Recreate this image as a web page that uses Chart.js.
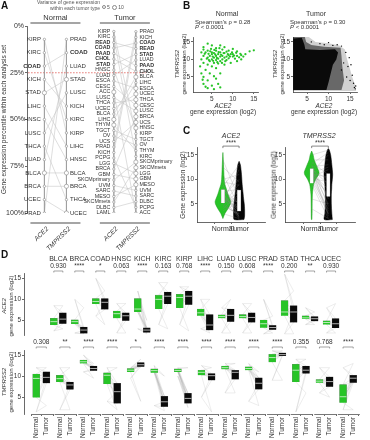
<!DOCTYPE html>
<html>
<head>
<meta charset="utf-8">
<title>ACE2 / TMPRSS2 expression</title>
<script src="https://cdn.jsdelivr.net/npm/chart.js@4.4.1/dist/chart.umd.min.js"></script>
<style>
  body { margin: 0; background: #fff; }
  #fig { position: relative; width: 370px; height: 440px; overflow: hidden;
         font-family: "Liberation Sans", Arial, sans-serif; color: #333; }
  #fig canvas { position: absolute; }
  .t { position: absolute; white-space: nowrap; line-height: 1; font-size: 6px; }
  .panel { font-weight: bold; font-size: 10px; color: #111; }
  .c { transform: translateX(-50%); text-align: center; }
  .rot { transform: translate(-50%, -50%) rotate(-90deg); text-align: center; }
  .dot { display: inline-block; border: 0.6px solid #888; border-radius: 50%; vertical-align: middle; margin: 0 1px 0 2px; }
</style>
</head>
<body>
<div id="fig">
  <canvas id="chartA" width="185" height="255" style="left:0px;top:0px"></canvas>
  <canvas id="chartB1" width="92" height="86" style="left:172px;top:30px"></canvas>
  <canvas id="chartB2" width="100" height="86" style="left:262px;top:30px"></canvas>
  <canvas id="chartC1" width="96" height="95" style="left:172px;top:140px"></canvas>
  <canvas id="chartC2" width="96" height="95" style="left:262px;top:140px"></canvas>
  <canvas id="chartD1" width="370" height="90" style="left:0px;top:250px"></canvas>
  <canvas id="chartD2" width="370" height="102" style="left:0px;top:338px"></canvas>

  <div class="t panel" style="left:1px;top:1px">A</div>
  <div class="t" style="left:20px;top:0px;width:80px;text-align:right;font-size:5px;line-height:5.6px;color:#555">Variance of gene expression<br>within each tumor type</div>
  <div class="t" style="left:100px;top:4.5px;font-size:5px;color:#555"><span class="dot" style="width:2px;height:2px"></span>5<span class="dot" style="width:3.5px;height:3.5px"></span>10</div>

  <div class="t panel" style="left:183px;top:1px">B</div>
  <div class="t c" style="left:227px;top:9.5px;font-size:7px">Normal</div>
  <div class="t c" style="left:316px;top:9.5px;font-size:7px">Tumor</div>
  <div class="t" style="left:195px;top:19.5px;line-height:5.5px">Spearman's &rho; = 0.28<br><i>P</i> &lt; 0.0001</div>
  <div class="t" style="left:290px;top:19.5px;line-height:5.5px">Spearman's &rho; = 0.30<br><i>P</i> &lt; 0.0001</div>
  <div class="t c" style="left:223px;top:103px;font-size:6.5px;line-height:6px"><i>ACE2</i><br>gene expression (log2)</div>
  <div class="t c" style="left:324px;top:103px;font-size:6.5px;line-height:6px"><i>ACE2</i><br>gene expression (log2)</div>
  <div class="t rot" style="left:180px;top:64px;line-height:6.5px"><i>TMPRSS2</i><br>gene expression (log2)</div>
  <div class="t rot" style="left:278px;top:64px;line-height:6.5px"><i>TMPRSS2</i><br>gene expression (log2)</div>

  <div class="t panel" style="left:183px;top:126px">C</div>
  <div class="t c" style="left:231px;top:131.5px;font-size:7px"><i>ACE2</i></div>
  <div class="t c" style="left:319px;top:131.5px;font-size:7px"><i>TMPRSS2</i></div>
  <div class="t rot" style="left:183px;top:185px;font-size:6.5px">Gene expression (log2)</div>
  <div class="t rot" style="left:274px;top:185px;font-size:6.5px">Gene expression (log2)</div>

  <div class="t panel" style="left:1px;top:250px">D</div>
  <div class="t rot" style="left:7px;top:306px;line-height:6.5px"><i>ACE2</i><br>gene expression (log2)</div>
  <div class="t rot" style="left:7px;top:382px;line-height:6.5px"><i>TMPRSS2</i><br>gene expression (log2)</div>
</div>

<script>
const FONT = '"Liberation Sans", Arial, sans-serif';
const GREEN = '#27c427';
const AXIS = '#444';

// ---------- Panel A: percentile rank of each tumor type ----------
const normalAce2Order = ['KIRP','KIRC','COAD','KICH','STAD','LIHC','HNSC','LUSC','THCA','LUAD','BLCA','BRCA','UCEC','PRAD'];
const normalTmprss2Order = ['PRAD','COAD','LUAD','STAD','LUSC','KICH','KIRC','KIRP','LIHC','HNSC','BLCA','BRCA','THCA','UCEC'];
const tumorAce2Order = ['KIRP','KIRC','READ','COAD','PAAD','CHOL','STAD','HNSC','LUAD','ESCA','CESC','ACC','LUSC','THCA','UCEC','BLCA','LIHC','THYM','TGCT','OV','UCS','PRAD','KICH','PCPG','LGG','BRCA','GBM','SKCMprimary','UVM','SARC','MESO','SKCMmets','DLBC','LAML'];
const tumorTmprss2Order = ['PRAD','KICH','COAD','READ','STAD','LUAD','PAAD','CHOL','BLCA','LIHC','ESCA','UCEC','THCA','CESC','LUSC','BRCA','UCS','HNSC','KIRP','TGCT','OV','THYM','KIRC','SKCMprimary','SKCMmets','LGG','GBM','MESO','UVM','SARC','DLBC','PCPG','ACC'];
const normalBold = ['COAD'];
const tumorBold = ['READ','COAD','PAAD','CHOL','STAD'];
// tumor types drawn with the larger (variance 10) marker
const normalAce2HighVar = ['STAD','BLCA'];
const normalTmprss2HighVar = ['STAD','BLCA','BRCA','UCEC'];
const tumorAce2HighVar = ['ACC','LIHC','THYM'];
const tumorTmprss2HighVar = ['BLCA','ESCA','UCEC','THCA','CESC','LUSC','BRCA','UCS','HNSC','SKCMprimary','SKCMmets','LGG','GBM','MESO'];
const percentTicks = [0, 25, 50, 75, 100];
const cutoffPercent = 25;

// ---------- Panel B: scatter ACE2 vs TMPRSS2 ----------
const normalScatter = [
  [3,11],[3.5,12],[4,10.5],[4,12.5],[4.5,11],[4.5,9.5],[5,11.5],[5,10],[5,12],[5.5,10.5],[5.5,9],[5.5,11.8],
  [6,11],[6,9.8],[6,12.5],[6.5,10.2],[6.5,11.5],[6.5,8.8],[7,10.8],[7,9.5],[7,12],[7.5,11],[7.5,10],[8,10.5],
  [8,11.8],[8.5,10.8],[8.5,9.8],[9,11.2],[9,10.3],[9.5,11.5],[10,10.8],[10,11.5],[10.5,10.2],[11,11],[11.5,10.6],
  [12,11.2],[12.5,10.8],[9,12.5],[10,13],[8,13.5],[7,14],[5,14],[4,14.5],[3,13.5],[2.5,12],[2.5,10],[3,9],
  [4,8.5],[5,8],[6,7.5],[3.5,7],[2.5,6],[4.5,6],[3,5],[5.5,5.2],[4,4],[6,4.5],[3,3],[5,2.5],[6.5,3],[4,1.8],
  [7,2],[3.5,2.2],[5.5,1.5],[7,6],[6,13.2],[7.5,12.8],[8.5,12.2],[11,12.3],[13,11.5],[14,12.3],[15,12.6],
  [11,9.5],[9.5,9],[8,8.5],[12,10],[3,12.8],[4.8,13],[6.8,13.2],[5.2,10.8],[5.8,11.4],[6.2,10.4],[4.2,11.6],
  [3.8,10.2],[7.2,11.3],[7.8,11.8],[8.2,9.5],[9.8,12],[10.8,11.9],[4.6,12.3],[5.6,12.7],[6.6,12.1],[5.3,9.6],
  [6.3,9.2],[4.3,9.8],[7.4,9],[8.8,11.5],[9.3,10.8],[10.3,11.1],[11.8,11.6],[3.3,11.6],[2.2,8],[2.8,4.2]
];
// tumor cloud is too dense for single points: density outlines plus sparse outliers
const tumorHalo = [[1.6,1],[16.4,1],[16.2,2.5],[15.5,5],[14.8,8],[14.2,10.5],[13.8,12.8],[12.5,14],[10,14.6],[7,15],[5.2,16.6],[1.6,16.6]];
const tumorMid = [[1.8,1.3],[13,1.3],[13.6,4],[13.2,8],[13,11],[12.8,13.3],[9,13.6],[6,14.1],[4.8,15],[4.5,16.4],[1.8,16.4]];
const tumorCore = [[1.8,1.3],[1.8,16],[3.8,16.2],[4.4,14.2],[4.6,12.9],[8,12.7],[11.5,12.9],[12.2,12],[11.8,10],[11,8.5],[10.5,6],[10,3.5],[9.5,1.3]];
const tumorOutliers = [[14.5,8],[15,4],[16,2],[13,13.8],[14,12],[6,15],[8,14.5],[15.5,5.5],[16.2,1.6],[13.5,9],
  [14.8,10.5],[12,14.2],[10,14.8],[15.8,3.2],[13,7],[14.2,5],[11,14],[16.3,2.4],[9,14.2],[15.2,8.5]];
const scatterTicks = [5, 10, 15];

// ---------- Panel C: violins (level, half width) ----------
const ace2NormalLevels = [2, 3, 4, 5, 5.5, 6, 7, 8, 9, 10, 12, 14, 15.5];
const ace2NormalWidth = [0, 0.12, 0.31, 0.46, 0.48, 0.43, 0.31, 0.22, 0.12, 0.08, 0.05, 0.025, 0];
const ace2TumorLevels = [1.8, 2.5, 4, 5, 6, 7, 8, 9, 10, 11, 12, 13, 13.7];
const ace2TumorWidth = [0.3, 0.34, 0.34, 0.32, 0.28, 0.25, 0.22, 0.19, 0.17, 0.15, 0.12, 0.08, 0];
const tmprss2NormalLevels = [1.8, 3, 5, 7, 8, 9, 10, 10.5, 11, 11.5, 12, 13, 14, 15, 15.8];
const tmprss2NormalWidth = [0.015, 0.025, 0.03, 0.045, 0.075, 0.12, 0.24, 0.33, 0.42, 0.44, 0.39, 0.27, 0.15, 0.09, 0];
const tmprss2TumorLevels = [1.8, 3, 5, 7, 8, 9, 10, 11, 12, 13, 14, 15, 16, 16.3];
const tmprss2TumorWidth = [0.24, 0.21, 0.18, 0.18, 0.2, 0.21, 0.24, 0.26, 0.24, 0.21, 0.18, 0.14, 0.06, 0];
const ace2Boxes = { normal: [5.2, 7.9], tumor: [3.5, 7.8] };
const tmprss2Boxes = { normal: [9.2, 12.2], tumor: [6.5, 11.2] };
// paired samples (normal value -> tumor value)
const ace2PairNormal = [3,4,4.5,5,5.2,5.5,5.8,6,6.3,6.6,7,7.5,8,8.5,9,10,11,12.5,14,4.8,5.6,6.8,5.1,6.1,7.2,3.6,9.5,8.2];
const ace2PairTumor = [2,7,3,9,2.5,12,4,6,2,10,3.5,8,5,13,2.2,11,4.5,9.5,6,2.8,5.5,3,7.5,4.2,2.4,5.2,8.8,3.8];
const tmprss2PairNormal = [9,10,10.5,11,11.2,11.5,11.8,12,12.3,12.6,13,13.5,14,15,10.8,11.6,12.1,4,6,11.4,12.8,10.2,11.9,13.2,9.6,11.1];
const tmprss2PairTumor = [2,4,12,3,8,15,5,10,2.5,13,6,11,14,16,7,3.5,9,2,5,12.5,4.5,9.5,6.5,15.5,3,10.5];
const violinTicks = [5, 10, 15];

// ---------- Panel D: paired box plots per tumor type ----------
const dTypes = ['BLCA','BRCA','COAD','HNSC','KICH','KIRC','KIRP','LIHC','LUAD','LUSC','PRAD','STAD','THCA','UCEC'];
const ace2PValues = ['0.930','****','*','0.063','****','0.163','0.768','****','0.150','0.608','****','0.200','**','0.930'];
const tmprss2PValues = ['0.308','**','****','****','*','****','****','****','****','****','****','0.355','0.768','****'];

const ace2NormalQ1 = [3.9,4.15,8.9,5.5,7.0,7.7,7.95,6.1,5.5,5.5,3.25,6.1,5.3,4.0];
const ace2NormalMed = [4.7,4.7,9.5,6.6,7.7,10.0,10.45,6.8,5.9,5.9,4.2,7.0,5.6,4.5];
const ace2NormalQ3 = [5.5,5.15,10.2,7.2,10.2,11.0,11.2,7.7,6.3,6.4,5.1,9.7,6.1,4.9];
const ace2NormalMin = [2.5,2,6,2,3,4,4,3,2,2,1.8,1.8,4,2];
const ace2NormalMax = [8.5,10,15,9,12,14,13,10,8,9,10,16,8,8];
const ace2TumorQ1 = [4.2,1.9,7.6,4.9,2.1,8.9,8.7,2.65,4.7,4.5,2.8,4.5,4.8,3.2];
const ace2TumorMed = [5.3,2.7,9.3,6.1,2.7,10.75,10.75,3.9,6.2,5.7,3.3,7.0,5.4,4.2];
const ace2TumorQ3 = [6.8,3.4,10.2,6.8,3.25,11.75,12.0,6.4,7.7,6.8,3.8,8.5,5.9,5.45];
const ace2TumorMin = [3,1.8,4,2,1.8,3,2.5,2,2,2,2,1.8,4,2];
const ace2TumorMax = [8.5,8,12,9,5,14,13,10,10,9,6,12,7,9];

const tmprss2NormalQ1 = [4.9,8.6,13.0,8.1,11.0,10.8,11.0,10.2,11.6,11.4,13.3,8.6,8.4,3.7];
const tmprss2NormalMed = [9.45,9.4,13.4,10.2,11.4,11.3,11.35,10.9,12.0,11.8,14.4,11.4,8.8,5.1];
const tmprss2NormalQ3 = [10.5,10.2,13.8,10.8,11.8,11.7,11.7,11.4,12.4,12.2,15.2,12.8,9.2,8.0];
const tmprss2NormalMin = [1.5,2,11,4,9.5,3,10,5,6,4,9,1.5,6,2];
const tmprss2NormalMax = [12,12,15,12,12,12.5,12,12.5,13,13,16,14,12,12];
const tmprss2TumorQ1 = [8.3,6.8,11.3,3.5,12.2,2.7,3.5,9.0,9.3,6.9,14.8,10.6,7.5,8.4];
const tmprss2TumorMed = [9.7,7.9,11.8,6.3,12.7,3.9,4.7,10.1,10.9,8.3,15.1,11.4,8.7,9.5];
const tmprss2TumorQ3 = [11.0,8.6,12.4,8.3,13.2,5.2,5.9,10.6,11.4,9.6,15.5,12.4,9.8,10.2];
const tmprss2TumorMin = [3,2,9.5,2,4,1.8,2.5,1.5,6,3,9,6,5,2];
const tmprss2TumorMax = [12,12,13,12,14,10,12,12,13,11,16,14,12,13];
const boxTicks = [5, 10, 15];

// ---------- defaults ----------
Chart.defaults.font.family = FONT;
Chart.defaults.color = '#333';
Chart.defaults.animation = false;
Chart.defaults.responsive = false;
Chart.defaults.events = [];
Chart.defaults.plugins.legend.display = false;
Chart.defaults.plugins.tooltip.enabled = false;

const fixedTicks = vals => scale => { scale.ticks = vals.map(v => ({ value: v })); };
const axisLine = { display: true, color: AXIS, width: 0.8 };
const tickGrid = { drawOnChartArea: false, drawTicks: true, tickLength: 2, color: AXIS, lineWidth: 0.8 };

// ---------- Panel A ----------
const pct = (i, n) => (i + 1) / n * 100;
const facetsA = [
  { title: 'Normal', ace2: normalAce2Order, tmp: normalTmprss2Order, xAce2: 1, xTmp: 2, bold: normalBold,
    bigAce2: normalAce2HighVar, bigTmp: normalTmprss2HighVar, size: 6 },
  { title: 'Tumor', ace2: tumorAce2Order, tmp: tumorTmprss2Order, xAce2: 4.15, xTmp: 5.15, bold: tumorBold,
    bigAce2: tumorAce2HighVar, bigTmp: tumorTmprss2HighVar, size: 5.3 }
];

function linkLines(f) {
  const pts = [];
  f.ace2.forEach((name, i) => {
    const j = f.tmp.indexOf(name);
    if (j < 0) return;
    pts.push({ x: f.xAce2, y: pct(i, f.ace2.length) }, { x: f.xTmp, y: pct(j, f.tmp.length) }, { x: f.xTmp, y: null });
  });
  return pts;
}
function columnMarkers(list, xv, big) {
  return {
    type: 'scatter',
    data: list.map((n, i) => ({ x: xv, y: pct(i, list.length) })),
    pointRadius: list.map(n => big.includes(n) ? 2.1 : 1.2),
    pointBackgroundColor: '#fff', pointBorderColor: '#888', pointBorderWidth: 0.6, order: 0
  };
}
function columnLine(list, xv) {
  return {
    type: 'line', data: [{ x: xv, y: pct(0, list.length) }, { x: xv, y: 100 }],
    borderColor: '#999', borderWidth: 0.6, pointRadius: 0, order: 1
  };
}

const datasetsA = [];
facetsA.forEach(f => {
  datasetsA.push(columnMarkers(f.ace2, f.xAce2, f.bigAce2), columnMarkers(f.tmp, f.xTmp, f.bigTmp));
  datasetsA.push(columnLine(f.ace2, f.xAce2), columnLine(f.tmp, f.xTmp));
  datasetsA.push({ type: 'line', data: linkLines(f), borderColor: '#c8c8c8', borderWidth: 0.6,
    pointRadius: 0, spanGaps: false, order: 3 });
});
datasetsA.push({ type: 'line', data: [{ x: 0.26, y: cutoffPercent }, { x: 5.6, y: cutoffPercent }],
  borderColor: '#e0554f', borderWidth: 0.8, borderDash: [1.5, 1.5], pointRadius: 0, order: 2 });

const panelALabels = {
  id: 'panelALabels',
  afterDatasetsDraw(chart) {
    const { ctx, scales: { x, y }, chartArea } = chart;
    ctx.save();
    ctx.fillStyle = '#333';
    facetsA.forEach(f => {
      const xa = x.getPixelForValue(f.xAce2), xb = x.getPixelForValue(f.xTmp);
      ctx.textBaseline = 'middle';
      [[f.ace2, xa - 3.5, 'right'], [f.tmp, xb + 3.5, 'left']].forEach(([list, px, align]) => {
        ctx.textAlign = align;
        list.forEach((name, i) => {
          ctx.font = (f.bold.includes(name) ? 'bold ' : '') + f.size + 'px ' + FONT;
          ctx.fillText(name, px, y.getPixelForValue(pct(i, list.length)));
        });
      });
      // facet strip + bottom axis
      ctx.strokeStyle = '#888';
      ctx.lineWidth = 1.3;
      ctx.beginPath();
      ctx.moveTo(xa - 14, chartArea.top - 3); ctx.lineTo(xb + 14, chartArea.top - 3);
      ctx.moveTo(xa - 14, chartArea.bottom + 10); ctx.lineTo(xb + 14, chartArea.bottom + 10);
      ctx.stroke();
      ctx.font = '7.5px ' + FONT;
      ctx.textAlign = 'center';
      ctx.textBaseline = 'alphabetic';
      ctx.fillText(f.title, (xa + xb) / 2, chartArea.top - 6);
      ctx.font = 'italic 6.5px ' + FONT;
      ctx.textAlign = 'right';
      ctx.textBaseline = 'middle';
      [[xa, 'ACE2'], [xb, 'TMPRSS2']].forEach(([px, g]) => {
        ctx.save();
        ctx.translate(px + 3, chartArea.bottom + 15);
        ctx.rotate(-Math.PI / 4);
        ctx.fillText(g, 0, 0);
        ctx.restore();
      });
    });
    ctx.restore();
  }
};

new Chart(document.getElementById('chartA'), {
  type: 'scatter',
  data: { datasets: datasetsA },
  options: {
    layout: { padding: { top: 26, bottom: 42, left: 0, right: 0 } },
    scales: {
      x: { type: 'linear', min: 0.21, max: 7.17, display: false },
      y: {
        type: 'linear', min: 0, max: 100, reverse: true,
        afterFit: s => { s.width = 27; },
        afterBuildTicks: fixedTicks(percentTicks),
        ticks: { callback: v => v + '%', font: { size: 7 }, padding: 1 },
        border: axisLine, grid: tickGrid,
        title: { display: true, text: 'Gene expression percentile within each analysis set', font: { size: 6.5 }, padding: 0 }
      }
    }
  },
  plugins: [panelALabels]
});

// ---------- Panel B ----------
function scatterScales(xmin, xmax) {
  return {
    x: { type: 'linear', min: xmin, max: xmax, afterFit: s => { s.height = 10; },
         afterBuildTicks: fixedTicks(scatterTicks), ticks: { font: { size: 6.5 }, padding: 1, maxRotation: 0 },
         border: axisLine, grid: tickGrid },
    y: { type: 'linear', min: 0.7, max: 16.4, afterFit: s => { s.width = 21; },
         afterBuildTicks: fixedTicks(scatterTicks), ticks: { font: { size: 6.5 }, padding: 1 },
         border: axisLine, grid: tickGrid }
  };
}
const toXY = arr => arr.map(([x, y]) => ({ x, y }));
const closed = arr => toXY(arr.concat([arr[0]]));

new Chart(document.getElementById('chartB1'), {
  type: 'scatter',
  data: { datasets: [{ data: toXY(normalScatter), pointRadius: 1.15, pointBackgroundColor: GREEN, pointBorderWidth: 0 }] },
  options: { layout: { padding: { left: 0, right: 6, top: 7, bottom: 14 } }, scales: scatterScales(0.5, 16) }
});

new Chart(document.getElementById('chartB2'), {
  type: 'scatter',
  data: { datasets: [
    { data: toXY(tumorOutliers), pointRadius: 0.7, pointBackgroundColor: '#000', pointBorderWidth: 0, order: 0 },
    { type: 'line', data: closed(tumorCore), fill: 'shape', backgroundColor: '#0a0a0a', borderWidth: 0, pointRadius: 0, tension: 0, order: 1 },
    { type: 'line', data: closed(tumorMid), fill: 'shape', backgroundColor: 'rgba(0,0,0,0.5)', borderWidth: 0, pointRadius: 0, tension: 0, order: 2 },
    { type: 'line', data: closed(tumorHalo), fill: 'shape', backgroundColor: 'rgba(0,0,0,0.18)', borderWidth: 0, pointRadius: 0, tension: 0, order: 3 }
  ] },
  options: { layout: { padding: { left: 10, right: 5, top: 7, bottom: 14 } }, scales: scatterScales(1.75, 16.6) }
});

// ---------- Panel C ----------
function violinShape(center, levels, widths) {
  const right = levels.map((lv, i) => ({ x: center + widths[i], y: lv }));
  const left = levels.map((lv, i) => ({ x: center - widths[i], y: lv })).reverse();
  return right.concat(left, [right[0]]);
}
function pairLines(normal, tumor) {
  const pts = [];
  normal.forEach((v, i) => pts.push({ x: 1, y: v }, { x: 2, y: tumor[i] }, { x: 2, y: null }));
  return pts;
}
const sigBracket = {
  id: 'sigBracket',
  afterDatasetsDraw(chart) {
    const { ctx, scales: { x }, chartArea } = chart;
    const x1 = x.getPixelForValue(1), x2 = x.getPixelForValue(2), yb = chartArea.top - 1.5;
    ctx.save();
    ctx.strokeStyle = '#555';
    ctx.lineWidth = 0.7;
    ctx.beginPath();
    ctx.moveTo(x1, yb + 2); ctx.lineTo(x1, yb); ctx.lineTo(x2, yb); ctx.lineTo(x2, yb + 2);
    ctx.stroke();
    ctx.fillStyle = '#333';
    ctx.font = '6.5px ' + FONT;
    ctx.textAlign = 'center';
    ctx.fillText('****', (x1 + x2) / 2, yb - 1);
    ctx.restore();
  }
};
function violinChart(id, nLv, nW, tLv, tW, boxes, pn, pt, padLeft) {
  new Chart(document.getElementById(id), {
    type: 'scatter',
    data: { datasets: [
      { type: 'bar', data: [{ x: 1, y: boxes.normal }, { x: 2, y: boxes.tumor }], barThickness: 3.5,
        backgroundColor: '#fff', borderColor: '#999', borderWidth: 0.5, order: 0 },
      { type: 'line', data: pairLines(pn, pt), borderColor: 'rgba(130,130,130,0.45)', borderWidth: 0.5,
        pointRadius: 0, spanGaps: false, order: 1 },
      { type: 'line', data: violinShape(1, nLv, nW), fill: 'shape', backgroundColor: GREEN, borderColor: '#1a9a1a',
        borderWidth: 0.5, pointRadius: 0, tension: 0.3, order: 2 },
      { type: 'line', data: violinShape(2, tLv, tW), fill: 'shape', backgroundColor: '#050505', borderColor: '#000',
        borderWidth: 0.5, pointRadius: 0, tension: 0.3, order: 3 }
    ] },
    options: {
      layout: { padding: { left: padLeft, right: 3, top: 7.6, bottom: 1 } },
      scales: {
        x: { type: 'linear', min: 0.45, max: 2.55, afterFit: s => { s.height = 12; },
             afterBuildTicks: fixedTicks([1, 2]),
             ticks: { callback: v => v === 1 ? 'Normal' : 'Tumor', font: { size: 7 }, padding: 1, maxRotation: 0 },
             border: axisLine, grid: tickGrid },
        y: { type: 'linear', min: 1.3, max: 16.5, afterFit: s => { s.width = 22; },
             afterBuildTicks: fixedTicks(violinTicks), ticks: { font: { size: 6.5 }, padding: 1 },
             border: axisLine, grid: tickGrid }
      }
    },
    plugins: [sigBracket]
  });
}
violinChart('chartC1', ace2NormalLevels, ace2NormalWidth, ace2TumorLevels, ace2TumorWidth, ace2Boxes,
  ace2PairNormal, ace2PairTumor, 3);
violinChart('chartC2', tmprss2NormalLevels, tmprss2NormalWidth, tmprss2TumorLevels, tmprss2TumorWidth, tmprss2Boxes,
  tmprss2PairNormal, tmprss2PairTumor, 1);

// ---------- Panel D ----------
const TUMOR_OFFSET = 0.43;
// spread lines between the five summary values of normal and tumor
const spreadPairs = [[0,0],[0,1],[1,0],[1,2],[2,1],[2,2],[2,3],[3,2],[3,4],[4,3],[4,4],[1,3],[3,1],[0,2],[4,2]];

function boxDatasets(n, t) {
  const bars = [], colors = [], meds = [], web = [];
  dTypes.forEach((name, i) => {
    const xn = i, xt = i + TUMOR_OFFSET;
    bars.push({ x: xn, y: [n.q1[i], n.q3[i]] }, { x: xt, y: [t.q1[i], t.q3[i]] });
    colors.push(GREEN, '#0a0a0a');
    meds.push({ x: xn, y: n.med[i] }, { x: xt, y: t.med[i] });
    const ns = [n.min[i], n.q1[i], n.med[i], n.q3[i], n.max[i]];
    const ts = [t.min[i], t.q1[i], t.med[i], t.q3[i], t.max[i]];
    spreadPairs.forEach(([a, b]) => web.push({ x: xn, y: ns[a] }, { x: xt, y: ts[b] }, { x: xt, y: null }));
  });
  return [
    { type: 'scatter', data: meds, pointStyle: 'line', pointRadius: 3.4, borderColor: '#fff',
      pointBorderColor: 'rgba(255,255,255,0.85)', pointBorderWidth: 0.8, order: 0 },
    { type: 'bar', data: bars, backgroundColor: colors, borderColor: '#777', borderWidth: 0.3, barThickness: 7, order: 1 },
    { type: 'line', data: web, borderColor: 'rgba(150,150,150,0.35)', borderWidth: 0.5, pointRadius: 0,
      spanGaps: false, order: 2 }
  ];
}

const dHeader = {
  id: 'dHeader',
  afterDatasetsDraw(chart, args, opts) {
    const { ctx, scales: { x }, chartArea } = chart;
    ctx.save();
    ctx.fillStyle = '#333';
    ctx.strokeStyle = '#666';
    ctx.lineWidth = 0.6;
    ctx.textAlign = 'center';
    ctx.textBaseline = 'middle';
    dTypes.forEach((name, i) => {
      const x1 = x.getPixelForValue(i), x2 = x.getPixelForValue(i + TUMOR_OFFSET), xc = (x1 + x2) / 2;
      if (opts.names) {
        ctx.font = '7px ' + FONT;
        ctx.fillText(name, xc, chartArea.top - 14.5);
      }
      ctx.font = '6.5px ' + FONT;
      ctx.fillText(opts.pvals[i], xc, chartArea.top - opts.pGap);
      const yb = chartArea.top - opts.bGap;
      ctx.beginPath();
      ctx.moveTo(x1, yb + 1.5); ctx.lineTo(x1, yb); ctx.lineTo(x2, yb); ctx.lineTo(x2, yb + 1.5);
      ctx.stroke();
      if (opts.segments) {
        ctx.strokeStyle = '#777';
        ctx.lineWidth = 1;
        ctx.beginPath();
        ctx.moveTo(x.getPixelForValue(i - 0.22), chartArea.bottom + 0.5);
        ctx.lineTo(x.getPixelForValue(i + 0.71), chartArea.bottom + 0.5);
        ctx.stroke();
        ctx.strokeStyle = '#666';
        ctx.lineWidth = 0.6;
      }
    });
    ctx.restore();
  }
};

const dTickPositions = [];
dTypes.forEach((n, i) => dTickPositions.push(i, i + TUMOR_OFFSET));

function boxYScale(min, max) {
  return { type: 'linear', min, max, afterFit: s => { s.width = 24; },
           afterBuildTicks: fixedTicks(boxTicks), ticks: { font: { size: 6.5 }, padding: 1 },
           border: axisLine, grid: tickGrid };
}

new Chart(document.getElementById('chartD1'), {
  type: 'scatter',
  data: { datasets: boxDatasets(
    { q1: ace2NormalQ1, med: ace2NormalMed, q3: ace2NormalQ3, min: ace2NormalMin, max: ace2NormalMax },
    { q1: ace2TumorQ1, med: ace2TumorMed, q3: ace2TumorQ3, min: ace2TumorMin, max: ace2TumorMax }) },
  options: {
    layout: { padding: { left: 0, right: 1, top: 23.3, bottom: 2 } },
    scales: { x: { type: 'linear', min: -0.26, max: 13.68, display: false }, y: boxYScale(1.5, 16.2) },
    plugins: { dHeader: { names: true, pvals: ace2PValues, pGap: 7.3, bGap: 2.3, segments: false } }
  },
  plugins: [dHeader]
});

new Chart(document.getElementById('chartD2'), {
  type: 'scatter',
  data: { datasets: boxDatasets(
    { q1: tmprss2NormalQ1, med: tmprss2NormalMed, q3: tmprss2NormalQ3, min: tmprss2NormalMin, max: tmprss2NormalMax },
    { q1: tmprss2TumorQ1, med: tmprss2TumorMed, q3: tmprss2TumorQ3, min: tmprss2TumorMin, max: tmprss2TumorMax }) },
  options: {
    layout: { padding: { left: 0, right: 1, top: 12, bottom: 2 } },
    scales: {
      x: { type: 'linear', min: -0.26, max: 13.68, afterFit: s => { s.height = 24; },
           afterBuildTicks: fixedTicks(dTickPositions),
           ticks: { callback: (v, i) => i % 2 === 0 ? 'Normal' : 'Tumor', font: { size: 6.5 }, padding: 1,
                    minRotation: 90, maxRotation: 90, autoSkip: false },
           border: { display: false }, grid: tickGrid },
      y: boxYScale(1, 16.2)
    },
    plugins: { dHeader: { names: false, pvals: tmprss2PValues, pGap: 8, bGap: 3, segments: true } }
  },
  plugins: [dHeader]
});
</script>
</body>
</html>
